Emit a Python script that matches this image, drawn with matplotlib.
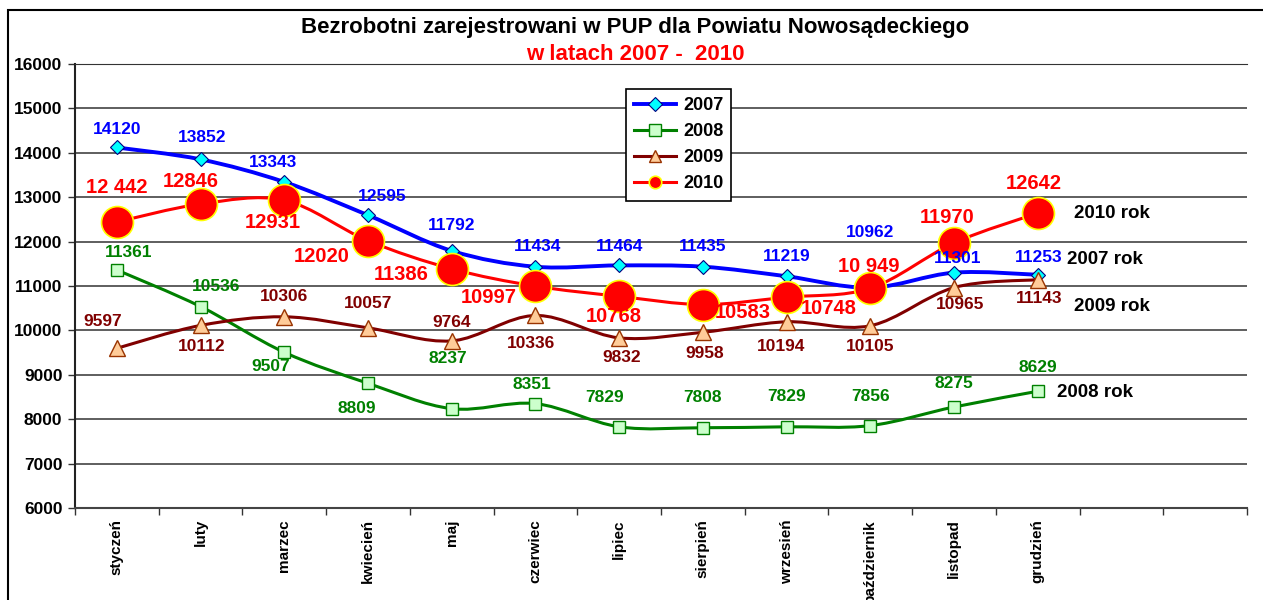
import matplotlib.pyplot as plt
from matplotlib.path import Path
from matplotlib.patches import PathPatch, Rectangle
from matplotlib.lines import Line2D

plt.rcParams['font.family'] = ['Liberation Sans', 'DejaVu Sans']
plt.rcParams['font.weight'] = 'bold'

# data
months = ['styczeń', 'luty', 'marzec', 'kwiecień', 'maj', 'czerwiec', 'lipiec',
          'sierpień', 'wrzesień', 'październik', 'listopad', 'grudzień']
v2007 = [14120, 13852, 13343, 12595, 11792, 11434, 11464, 11435, 11219, 10962, 11301, 11253]
v2008 = [11361, 10536, 9507, 8809, 8237, 8351, 7829, 7808, 7829, 7856, 8275, 8629]
v2009 = [9597, 10112, 10306, 10057, 9764, 10336, 9832, 9958, 10194, 10105, 10965, 11143]
v2010 = [12442, 12846, 12931, 12020, 11386, 10997, 10768, 10583, 10748, 10949, 11970, 12642]
labels2010 = ['12 442', '12846', '12931', '12020', '11386', '10997', '10768', '10583',
              '10748', '10 949', '11970', '12642']

# label offsets in pixels (dx, dy)
off2007 = [(0, 18), (2, 22), (-11, 19), (14, 19), (0, 25), (2, 20), (0, 19), (0, 20),
           (0, 20), (0, 55), (4, 14), (1, 17)]
off2008 = [(12, 17), (15, 20), (-14, -14), (-11, -25), (-4, 50), (-4, 19), (-15, 29),
           (0, 30), (0, 30), (0, 29), (0, 23), (0, 24)]
off2009 = [(-14, 27), (1, -21), (0, 20), (0, 24), (0, 18), (-4, -28), (3, -20), (2, -21),
           (-6, -25), (0, -21), (6, -17), (1, -19)]
off2010 = [(0, 34), (-10, 23), (-12, -22), (-46, -16), (-51, -6), (-47, -11), (-5, -20),
           (40, -8), (42, -11), (-2, 22), (-7, 25), (-4, 30)]


def smooth_path(xs, ys):
    # Catmull-Rom style bezier through the points (Excel "smoothed line")
    pts = list(zip(xs, ys))
    verts = [pts[0]]
    codes = [Path.MOVETO]
    n = len(pts)
    for i in range(n - 1):
        p0 = pts[i - 1] if i > 0 else pts[i]
        p1 = pts[i]
        p2 = pts[i + 1]
        p3 = pts[i + 2] if i + 2 < n else pts[i + 1]
        c1 = (p1[0] + (p2[0] - p0[0]) / 6, p1[1] + (p2[1] - p0[1]) / 6)
        c2 = (p2[0] - (p3[0] - p1[0]) / 6, p2[1] - (p3[1] - p1[1]) / 6)
        verts += [c1, c2, p2]
        codes += [Path.CURVE4] * 3
    return Path(verts, codes)


fig = plt.figure(figsize=(12.63, 6.0), dpi=100)
ax = fig.add_axes([75 / 1263, 1 - 508 / 600, 1172 / 1263, 444 / 600])

x = list(range(len(months)))

series = [
    (v2007, '2007', '#0000FF', 2.8, dict(marker='D', ms=6.8, mfc='#00FFFF', mec='#000080', mew=0.8),
     off2007, [str(v) for v in v2007], 12.5, '#0000FF'),
    (v2008, '2008', '#008000', 2.2, dict(marker='s', ms=8.5, mfc='#CCFFCC', mec='#008000', mew=1.0),
     off2008, [str(v) for v in v2008], 12.5, '#008000'),
    (v2009, '2009', '#800000', 2.2, dict(marker='^', ms=11, mfc='#FFCC99', mec='#993300', mew=1.0),
     off2009, [str(v) for v in v2009], 12.5, '#800000'),
    (v2010, '2010', '#FF0000', 2.2, dict(marker='o', ms=23, mfc='#FF0000', mec='#FFFF00', mew=1.2),
     off2010, labels2010, 14.5, '#FF0000'),
]

handles = []
for k, (vals, name, col, lw, mk, offs, texts, fs, tcol) in enumerate(series):
    z = 3 + k * 2
    ax.add_patch(PathPatch(smooth_path(x, vals), fill=False, edgecolor=col, lw=lw,
                           capstyle='round', joinstyle='round', zorder=z))
    ax.plot(x, vals, linestyle='none', zorder=z + 1, **mk)
    for xi, v, t, (dx, dy) in zip(x, vals, texts, offs):
        ax.annotate(t, (xi, v), xytext=(dx, dy), textcoords='offset pixels',
                    ha='center', va='center', fontsize=fs, color=tcol,
                    fontweight='bold', zorder=20)
    small = dict(mk)
    small['ms'] = {'D': 7, 's': 8, '^': 9, 'o': 9}[mk['marker']]
    handles.append(Line2D([], [], color=col, lw=lw, **small))

# right-side series names
for vals, txt, (dx, dy) in [(v2010, '2010 rok', (74, 0)), (v2007, '2007 rok', (67, 15)),
                            (v2009, '2009 rok', (74, -27)), (v2008, '2008 rok', (57, -1))]:
    ax.annotate(txt, (x[-1], vals[-1]), xytext=(dx, dy), textcoords='offset pixels',
                ha='center', va='center', fontsize=13.5, color='black', fontweight='bold')

ax.set_xlim(-0.5, 13.5)
ax.set_ylim(6000, 16000)
ax.set_yticks(range(6000, 16001, 1000))
ax.tick_params(axis='y', labelsize=12.5, length=5, width=1, color='#333333', pad=4)
ax.set_xticks([i - 0.5 for i in range(15)])
ax.set_xticklabels([])
ax.tick_params(axis='x', which='major', length=5, width=1, color='#333333')
ax.set_xticks(x, minor=True)
ax.set_xticklabels(months, minor=True, rotation=90, va='top', ha='center', fontsize=11)
ax.tick_params(axis='x', which='minor', length=0, pad=8)
for lab in ax.get_yticklabels():
    lab.set_fontweight('bold')

ax.grid(axis='y', color='#333333', lw=1.1)
ax.set_axisbelow(True)
ax.spines['right'].set_visible(False)
ax.spines['top'].set_color('#333333')
ax.spines['left'].set_color('#222222')
ax.spines['left'].set_linewidth(1.5)
ax.spines['bottom'].set_color('#444444')
ax.spines['bottom'].set_linewidth(1.5)

leg = ax.legend(handles, ['2007', '2008', '2009', '2010'], loc='upper left',
                bbox_to_anchor=(0.4625, 0.9635), fancybox=False, framealpha=1,
                edgecolor='black', handlelength=2.3, fontsize=13, borderpad=0.45,
                labelspacing=0.5, handletextpad=0.4)
leg.get_frame().set_linewidth(1.2)
leg.set_zorder(30)
for t in leg.get_texts():
    t.set_fontweight('bold')

fig.text(0.503, 1 - 28 / 600, 'Bezrobotni zarejestrowani w PUP dla Powiatu Nowosądeckiego',
         ha='center', va='center', fontsize=16, fontweight='bold')
fig.text(0.503, 1 - 55 / 600, 'w latach 2007 -  2010', ha='center', va='center',
         fontsize=16, fontweight='bold', color='#FF0000')

fig.patches.append(Rectangle((8 / 1263, -0.1), 1.2, 1.1 - 10 / 600, transform=fig.transFigure,
                             fill=False, edgecolor='black', lw=1.5, figure=fig))

fig.savefig('out.png', dpi=100)
